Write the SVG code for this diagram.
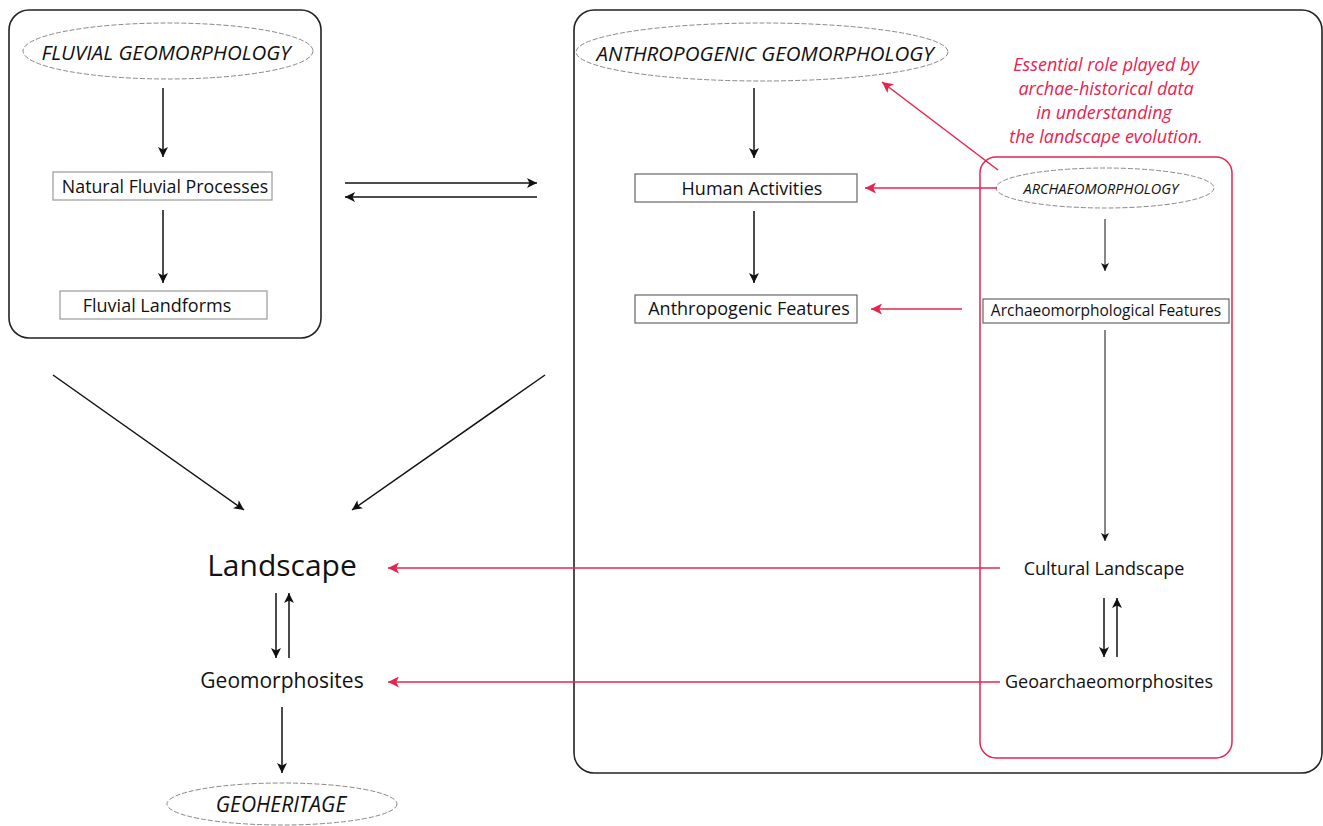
<svg xmlns="http://www.w3.org/2000/svg" width="1323" height="826" viewBox="0 0 1323 826">
<defs>
<marker id="ah" viewBox="0 0 10 10" refX="10" refY="5" markerWidth="10" markerHeight="10" markerUnits="userSpaceOnUse" orient="auto"><path d="M0,0 L10,5 L0,10 L2.5,5 z" fill="#111"/></marker>
<marker id="ahs" viewBox="0 0 10 10" refX="10" refY="5" markerWidth="8" markerHeight="8" markerUnits="userSpaceOnUse" orient="auto"><path d="M0,0 L10,5 L0,10 L2.5,5 z" fill="#111"/></marker>
<marker id="ahr" viewBox="0 0 10 10" refX="10" refY="5" markerWidth="11" markerHeight="11" markerUnits="userSpaceOnUse" orient="auto"><path d="M0,0 L10,5 L0,10 L2.5,5 z" fill="#e8234e"/></marker>
</defs>
<style>
text{font-family:"Open Sans","Noto Sans",sans-serif;fill:#111;text-anchor:middle}
.t{font-size:18px}
.it{font-style:italic}
.red{fill:#e8234e;font-style:italic;font-size:18px}
.box{fill:#fff;stroke:#999;stroke-width:1.2}
.ell{fill:#fff;stroke:#888;stroke-width:1;stroke-dasharray:5 2}
.frame{fill:none;stroke:#222;stroke-width:1.6}
.c{stroke:#111;stroke-width:1.5;fill:none;marker-end:url(#ah)}
.cs{stroke:#111;stroke-width:1;fill:none;marker-end:url(#ahs)}
.cr{stroke:#e8234e;stroke-width:1.5;fill:none;marker-end:url(#ahr)}
</style>
<rect width="1323" height="826" fill="#fff"/>
<g id="frame-fluvial"><rect class="frame" x="9" y="10" width="312" height="328" rx="20"/></g>
<g id="frame-anthropogenic"><rect class="frame" x="574" y="10" width="748" height="763" rx="20"/></g>
<g id="frame-archaeo"><rect x="980" y="157" width="252" height="601" rx="16" fill="none" stroke="#e8234e" stroke-width="1.5"/></g>

<g id="n-fluvial-geo"><ellipse class="ell" cx="168" cy="51" rx="145" ry="28"/><text class="it" x="166" y="60" font-size="20.5">FLUVIAL GEOMORPHOLOGY</text></g>
<g id="n-natural"><rect class="box" x="53" y="172" width="219" height="28"/><text x="165" y="193" font-size="17.8">Natural Fluvial Processes</text></g>
<g id="n-fluvial-landforms"><rect class="box" x="60" y="291" width="207" height="28"/><text class="t" x="157" y="312">Fluvial Landforms</text></g>

<g id="n-anthro-geo"><ellipse class="ell" cx="762" cy="52" rx="186" ry="29"/><text class="it" x="765" y="61" font-size="20.5">ANTHROPOGENIC GEOMORPHOLOGY</text></g>
<g id="n-human"><rect class="box" x="635" y="174" width="222" height="28" style="stroke:#666"/><text class="t" x="752" y="195">Human Activities</text></g>
<g id="n-anthro-feat"><rect class="box" x="635" y="295" width="222" height="28" style="stroke:#666"/><text class="t" x="749" y="315">Anthropogenic Features</text></g>

<g id="n-archaeo"><ellipse class="ell" cx="1105" cy="188" rx="109" ry="20"/><text class="it" x="1101" y="194" font-size="14.5">ARCHAEOMORPHOLOGY</text></g>
<g id="n-archaeo-feat"><rect class="box" x="983" y="299" width="246" height="24" style="stroke:#666"/><text x="1106" y="316" font-size="15.5">Archaeomorphological Features</text></g>
<g id="n-cultural"><text x="1104" y="575" font-size="18">Cultural Landscape</text></g>
<g id="n-geoarch"><text x="1109" y="688" font-size="18">Geoarchaeomorphosites</text></g>

<g id="n-note"><text class="red" x="1106" y="71">Essential role played by</text><text class="red" x="1106" y="95">archae-historical data</text><text class="red" x="1104" y="119">in understanding</text><text class="red" x="1106" y="143">the landscape evolution.</text></g>

<g id="n-landscape"><text x="282" y="576" font-size="30">Landscape</text></g>
<g id="n-geomorphosites"><text x="282" y="688" font-size="21">Geomorphosites</text></g>
<g id="n-geoheritage"><ellipse class="ell" cx="282" cy="804" rx="115" ry="21"/><text class="it" x="281" y="812" font-size="21">GEOHERITAGE</text></g>

<g id="connectors">
<line class="c" x1="163" y1="88" x2="163" y2="157"/>
<line class="c" x1="163" y1="210" x2="163" y2="283"/>
<line class="c" x1="345" y1="183" x2="537" y2="183"/>
<line class="c" x1="537" y1="197" x2="345" y2="197"/>
<line class="c" x1="754" y1="88" x2="754" y2="158"/>
<line class="c" x1="754" y1="211" x2="754" y2="283"/>
<line class="cs" x1="1105" y1="219" x2="1105" y2="271"/>
<line class="cs" x1="1105" y1="330" x2="1105" y2="541"/>
<line class="c" x1="1104" y1="598" x2="1104" y2="657"/>
<line class="c" x1="1117" y1="657" x2="1117" y2="598"/>
<line class="c" x1="53" y1="375" x2="244" y2="510"/>
<line class="c" x1="545" y1="375" x2="352" y2="510"/>
<line class="c" x1="276" y1="593" x2="276" y2="658"/>
<line class="c" x1="289" y1="658" x2="289" y2="593"/>
<line class="c" x1="282" y1="707" x2="282" y2="773"/>
<line class="cr" x1="997" y1="188" x2="865" y2="188"/>
<line class="cr" x1="962" y1="309" x2="871" y2="309"/>
<line class="cr" x1="998" y1="170" x2="882" y2="82"/>
<line class="cr" x1="1000" y1="568" x2="388" y2="568"/>
<line class="cr" x1="1000" y1="682" x2="388" y2="682"/>
</g>
</svg>
